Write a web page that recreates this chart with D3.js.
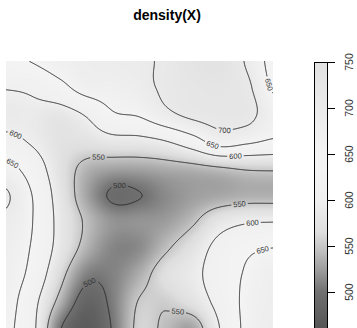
<!DOCTYPE html>
<html><head><meta charset="utf-8">
<script src="https://cdn.jsdelivr.net/npm/d3@7"></script>
<style>
html,body{margin:0;padding:0;background:#fff;}
svg{display:block;}
</style></head>
<body>
<script>
// ---------- data ----------
const title = "density(X)";
// window coordinates of the grid nodes (unit square)
const gridX = [0, 0.1, 0.2, 0.3, 0.4, 0.5, 0.6, 0.7, 0.8, 0.9, 1.0];
const gridY = [1.0, 0.9, 0.8, 0.7, 0.6, 0.5, 0.4, 0.3, 0.2, 0.1, 0.0]; // rows top -> bottom
// estimated density values at the grid nodes (rows follow gridY)
const densityRows = [
  [642, 652, 672, 682, 688, 693, 708, 735, 745, 695, 635],
  [602, 609, 635, 668, 672, 684, 710, 725, 730, 712, 645],
  [588, 590, 582, 604, 645, 655, 688, 712, 720, 718, 670],
  [612, 595, 575, 575, 585, 587, 600, 630, 672, 660, 645],
  [665, 625, 575, 540, 530, 530, 535, 540, 548, 555, 556],
  [705, 648, 582, 530, 495, 499, 515, 525, 530, 535, 535],
  [690, 650, 588, 545, 520, 520, 525, 545, 580, 595, 598],
  [680, 645, 585, 538, 512, 515, 545, 575, 615, 640, 650],
  [675, 635, 565, 510, 510, 535, 570, 590, 620, 655, 675],
  [668, 615, 540, 485, 508, 552, 555, 575, 615, 660, 680],
  [660, 610, 505, 470, 503, 558, 543, 530, 600, 660, 685]
];
const contourLevels = [500, 550, 600, 650, 700];
const ribbonTicks = [500, 550, 600, 650, 700, 750];
const ribbonRange = [461, 750];
// grey colour map of the image (value -> grey level)
const colourStops = [461, 480, 500, 525, 550, 565, 600, 650, 700, 750];
const greyStops   = [ 86,  98, 112, 158, 200, 222, 240, 244, 234, 226];
// contour labels: level and approximate location (window coords)
const labelLevel = [650, 700, 600, 650, 600, 650, 550, 500, 500, 550, 600, 650, 550];
const labelU = [0.775, 0.820, 0.858, 0.978, 0.034, 0.026, 0.345, 0.427, 0.322, 0.876, 0.925, 0.959, 0.644];
const labelV = [0.689, 0.738, 0.637, 0.910, 0.719, 0.618, 0.640, 0.517, 0.154, 0.461, 0.382, 0.292, 0.060];

// ---------- layout ----------
const W = 357, H = 328;
const PX0 = 6, PX1 = 273, PY0 = 61, PY1 = 328;
const x = d3.scaleLinear([0, 1], [PX0, PX1]);
const y = d3.scaleLinear([0, 1], [PY1, PY0]);
const grey = d3.scaleLinear(colourStops, greyStops).clamp(true);
const colour = v => { const g = Math.round(grey(v)); return `rgb(${g},${g},${g})`; };

// smooth (Catmull-Rom) surface through the grid values
function cr(p0, p1, p2, p3, t) {
  return 0.5 * (2 * p1 + (-p0 + p2) * t + (2 * p0 - 5 * p1 + 4 * p2 - p3) * t * t + (-p0 + 3 * p1 - 3 * p2 + p3) * t * t * t);
}
const nc = gridX.length, nr = gridY.length;
const gxs = d3.scaleLinear([gridX[0], gridX[nc - 1]], [0, nc - 1]).clamp(true);
const gys = d3.scaleLinear([gridY[0], gridY[nr - 1]], [0, nr - 1]).clamp(true);
function field(u, v) {
  const gx = gxs(u), gy = gys(v);
  const i = Math.min(Math.floor(gx), nc - 2), j = Math.min(Math.floor(gy), nr - 2);
  const tx = gx - i, ty = gy - j;
  const ci = k => Math.max(0, Math.min(nc - 1, k));
  const rj = k => Math.max(0, Math.min(nr - 1, k));
  const row = r => { const R = densityRows[rj(r)]; return cr(R[ci(i - 1)], R[ci(i)], R[ci(i + 1)], R[ci(i + 2)], tx); };
  return cr(row(j - 1), row(j), row(j + 1), row(j + 2), ty);
}

const svg = d3.select("body").append("svg").attr("width", W).attr("height", H)
  .style("font-family", "'Liberation Sans', Arial, Helvetica, sans-serif");

// title
svg.append("text").attr("x", 167).attr("y", 20).attr("text-anchor", "middle")
  .attr("font-size", 14).attr("font-weight", "bold").attr("fill", "#000").text(title);

// raster image
const RES = 128;
const cv = document.createElement("canvas"); cv.width = RES; cv.height = RES;
const ctx = cv.getContext("2d");
const img = ctx.createImageData(RES, RES);
for (let j = 0; j < RES; j++) for (let i = 0; i < RES; i++) {
  const g = Math.round(grey(field((i + 0.5) / RES, 1 - (j + 0.5) / RES)));
  const k = 4 * (j * RES + i);
  img.data[k] = img.data[k + 1] = img.data[k + 2] = g; img.data[k + 3] = 255;
}
ctx.putImageData(img, 0, 0);
svg.append("image").attr("href", cv.toDataURL()).attr("x", PX0).attr("y", PY0)
  .attr("width", PX1 - PX0).attr("height", PY1 - PY0).attr("preserveAspectRatio", "none");

// contours
const pad = 4, n = (PX1 - PX0) + 2 * pad;
const vals = new Float64Array(n * n);
for (let j = 0; j < n; j++) for (let i = 0; i < n; i++) {
  vals[j * n + i] = field(x.invert(PX0 - pad + i + 0.5), y.invert(PY0 - pad + j + 0.5));
}
const contours = d3.contours().size([n, n]).thresholds(contourLevels)(vals);

const defs = svg.append("defs");
defs.append("clipPath").attr("id", "panelclip").append("rect")
  .attr("x", PX0).attr("y", PY0).attr("width", PX1 - PX0).attr("height", PY1 - PY0);
const mask = defs.append("mask").attr("id", "lblmask").attr("maskUnits", "userSpaceOnUse")
  .attr("x", 0).attr("y", 0).attr("width", W).attr("height", H);
mask.append("rect").attr("x", 0).attr("y", 0).attr("width", W).attr("height", H).attr("fill", "#fff");

const outer = svg.append("g").attr("clip-path", "url(#panelclip)");
const masked = outer.append("g").attr("mask", "url(#lblmask)");
masked.append("g").attr("transform", `translate(${PX0 - pad},${PY0 - pad})`)
  .selectAll("path").data(contours).join("path")
  .attr("d", d3.geoPath()).attr("fill", "none").attr("stroke", "#2a2a2a").attr("stroke-width", 1);

// labels
const lblG = outer.append("g");
labelLevel.forEach((lev, idx) => {
  const c = contours.find(d => d.value === lev);
  if (!c) return;
  const tx = x(labelU[idx]), ty = y(labelV[idx]);
  let best = null, bd = Infinity;
  c.coordinates.forEach(poly => poly.forEach(ring => {
    ring.forEach((p, k) => {
      const sx = p[0] + PX0 - pad, sy = p[1] + PY0 - pad;
      if (sx < PX0 || sx > PX1 || sy < PY0 || sy > PY1) return;
      const d = (sx - tx) ** 2 + (sy - ty) ** 2;
      if (d < bd) { bd = d; best = { ring, k, sx, sy }; }
    });
  }));
  if (!best) return;
  const L = best.ring.length, a = best.ring[(best.k - 4 + L) % L], b = best.ring[(best.k + 4) % L];
  let ang = Math.atan2(b[1] - a[1], b[0] - a[0]) * 180 / Math.PI;
  if (ang > 90) ang -= 180; if (ang < -90) ang += 180;
  const t = lblG.append("text").attr("transform", `translate(${best.sx},${best.sy}) rotate(${ang})`)
    .attr("text-anchor", "middle").attr("dy", "0.35em").attr("font-size", 7.5).attr("fill", "#333").text(lev);
  const tw = t.node().getComputedTextLength();
  mask.append("rect").attr("transform", `translate(${best.sx},${best.sy}) rotate(${ang})`)
    .attr("x", -tw / 2 - 2).attr("y", -4).attr("width", tw + 4).attr("height", 8).attr("fill", "#000");
});

// colour ribbon
const ry = d3.scaleLinear(ribbonRange, [PY1, 62]);
const grad = defs.append("linearGradient").attr("id", "ribbon").attr("x1", 0).attr("y1", 1).attr("x2", 0).attr("y2", 0);
d3.range(ribbonRange[0], ribbonRange[1] + 0.1, 4).forEach(v => {
  grad.append("stop").attr("offset", (v - ribbonRange[0]) / (ribbonRange[1] - ribbonRange[0])).attr("stop-color", colour(v));
});
svg.append("rect").attr("x", 314).attr("y", 62).attr("width", 13).attr("height", PY1 - 62).attr("fill", "url(#ribbon)");
svg.append("rect").attr("x", 314.5).attr("y", 62.5).attr("width", 13).attr("height", PY1 - 62 + 5)
  .attr("fill", "none").attr("stroke", "#000").attr("stroke-width", 1);
ribbonTicks.forEach(t => {
  const yy = Math.round(ry(t)) + 0.5;
  svg.append("line").attr("x1", 327.5).attr("x2", 335).attr("y1", yy).attr("y2", yy).attr("stroke", "#000");
  svg.append("text").attr("transform", `translate(352.5,${ry(t)}) rotate(-90)`)
    .attr("text-anchor", "middle").attr("font-size", 10.5).attr("fill", "#333").text(t);
});
</script>
</body></html>
